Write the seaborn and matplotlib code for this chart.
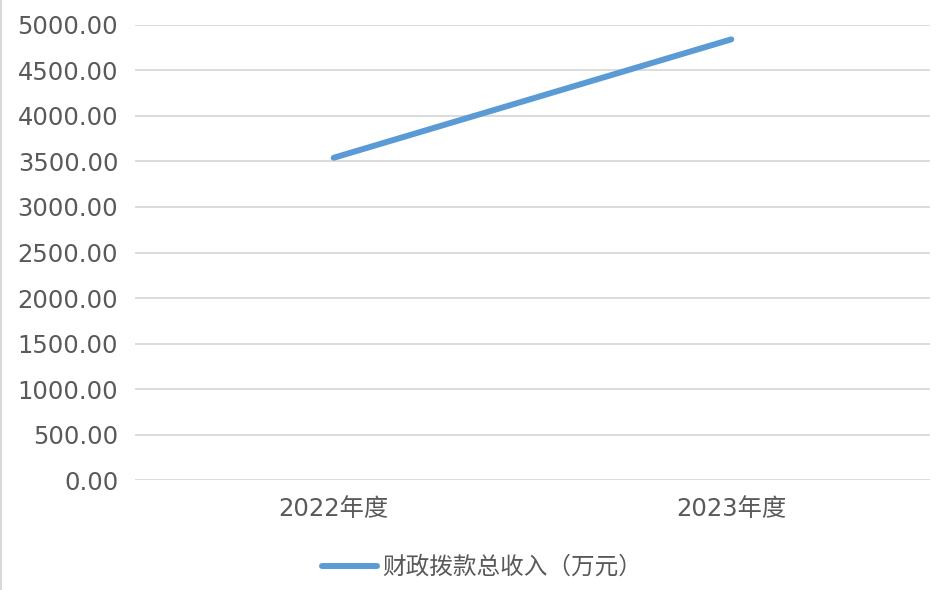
import matplotlib
matplotlib.use("Agg")
import matplotlib.pyplot as plt
import numpy as np
import pandas as pd
import seaborn as sns

years = ["2022年度", "2023年度"]
income = [3540.0, 4840.0]
series_name = "财政拨款总收入（万元）"

sns.set_style("white")
plt.rcParams["font.family"] = ["DejaVu Sans", "Noto Sans CJK SC"]

df = pd.DataFrame({"year": years, "value": income})

fig = plt.figure(figsize=(9.5, 5.9), dpi=100)
ax = fig.add_axes([0.142, 0.186, 0.837, 0.772])

sns.lineplot(data=df, x="year", y="value", ax=ax, color="#5B9BD5",
             linewidth=4.3, solid_capstyle="round", label=series_name, sort=False)

ax.set_xlim(-0.5, 1.5)
ax.set_ylim(0, 5000)
ax.set_yticks(np.arange(0, 5001, 500))
ax.set_yticklabels([f"{v:.2f}" for v in np.arange(0, 5001, 500)])
ax.yaxis.grid(True, color="#D9D9D9", linewidth=1.3)
ax.set_axisbelow(True)
for s in ax.spines.values():
    s.set_visible(False)
ax.tick_params(axis="both", length=0, labelsize=17.5, labelcolor="#595959")
ax.tick_params(axis="y", pad=12)
ax.tick_params(axis="x", pad=12)
ax.set_xlabel("")
ax.set_ylabel("")

leg = ax.legend(loc="center", bbox_to_anchor=(0.437, -0.19), frameon=False,
                fontsize=17, handlelength=2.3, handletextpad=0.25)
for t in leg.get_texts():
    t.set_color("#595959")

# light border line on the left side of the chart area
fig.add_artist(plt.Line2D([0.001, 0.001], [0, 1], color="#D9D9D9", linewidth=1.5,
                          transform=fig.transFigure))

fig.savefig("out.png", dpi=100)
